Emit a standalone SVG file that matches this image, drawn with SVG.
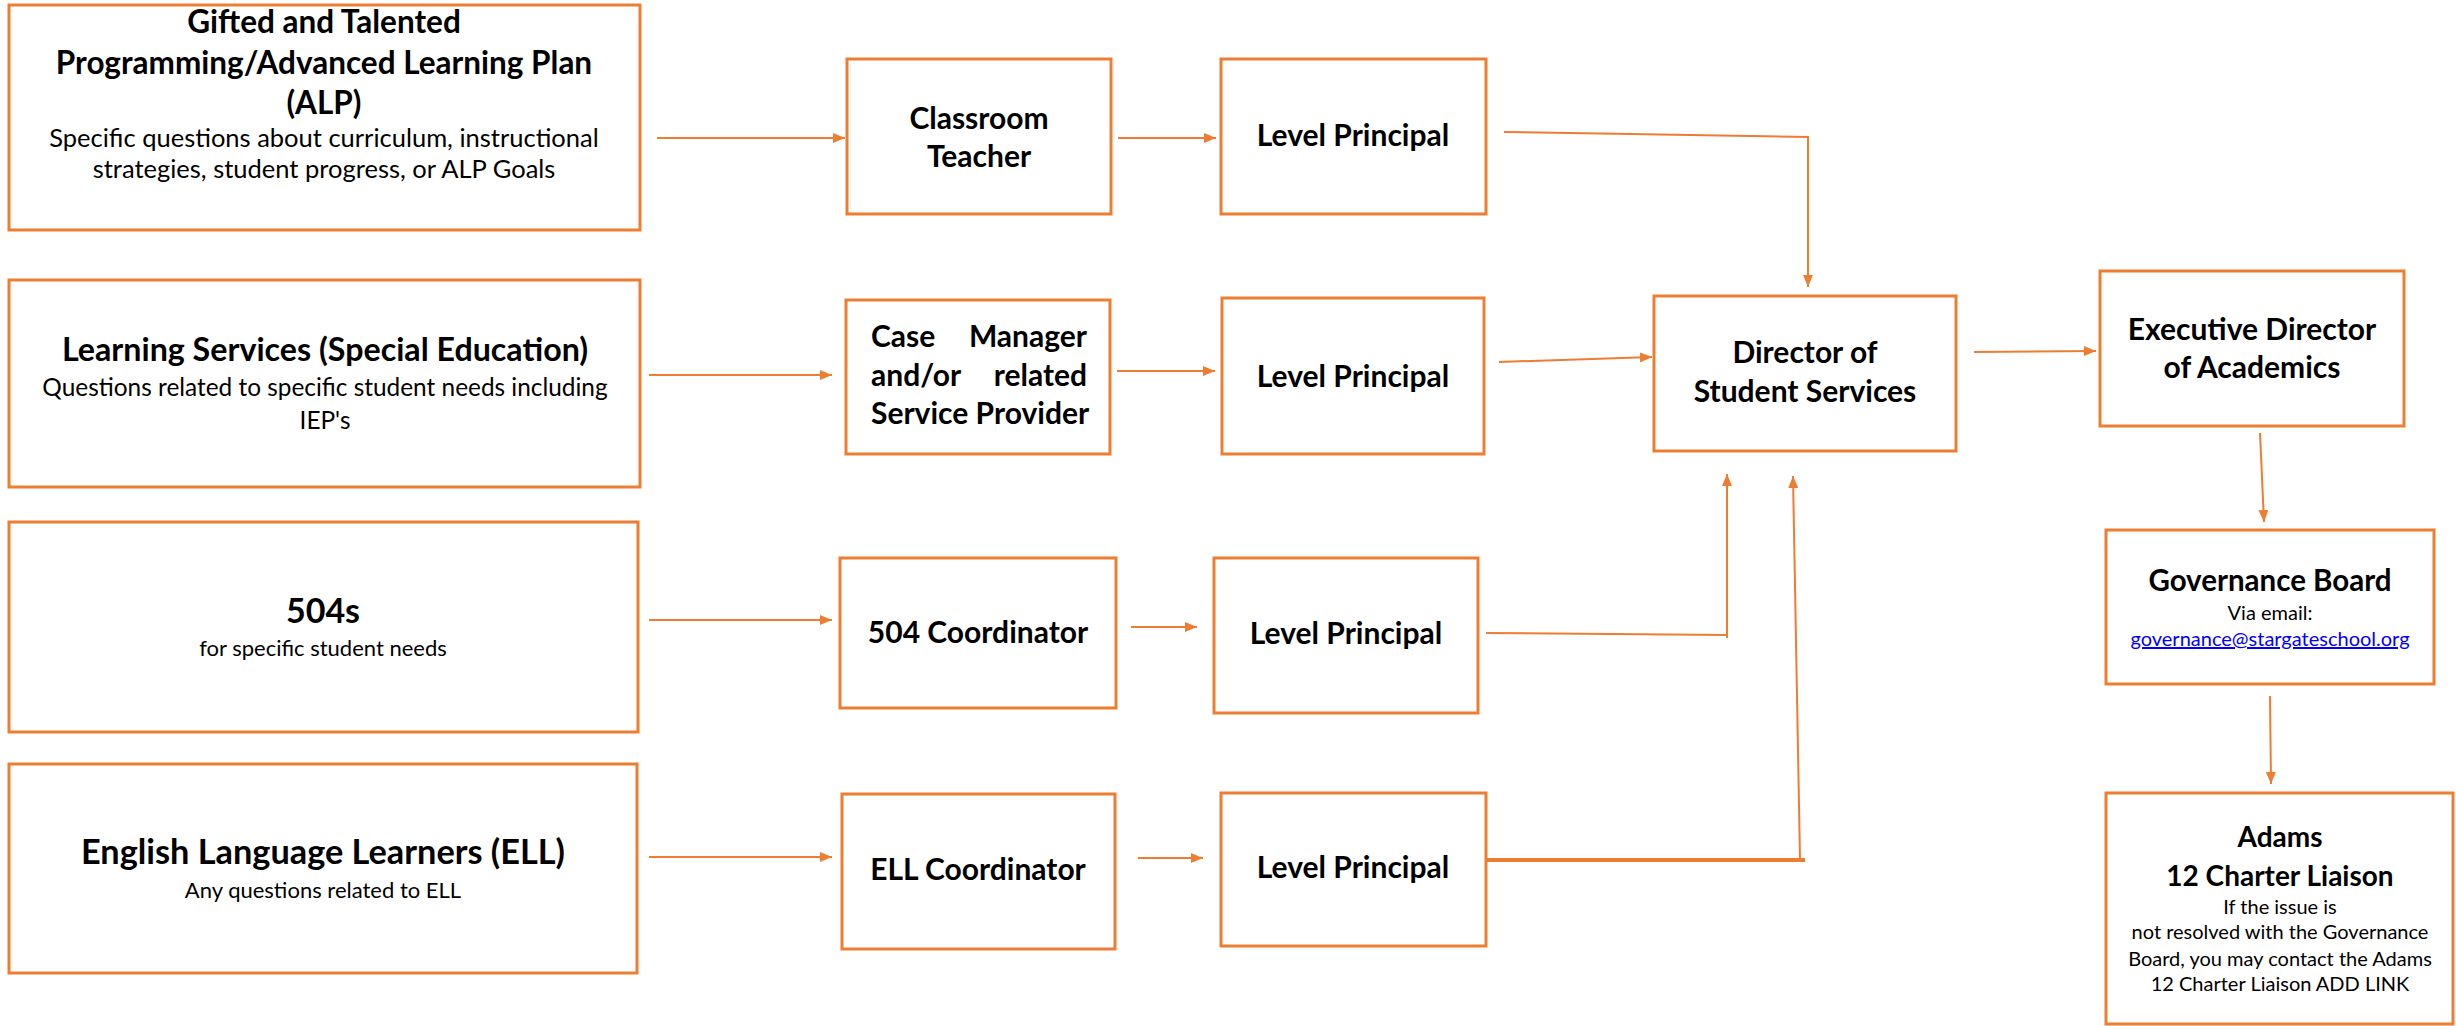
<svg xmlns="http://www.w3.org/2000/svg" width="2456" height="1026" viewBox="0 0 2456 1026">
<style>
.box{fill:#fff;stroke:#ED7D31;stroke-width:3}
.t{font-family:Lato,"Liberation Sans",sans-serif;font-weight:bold;font-size:30px;fill:#000;text-anchor:middle}
.s{font-family:Lato,"Liberation Sans",sans-serif;font-size:22px;fill:#000;text-anchor:middle}
.l{text-anchor:start}
.e{text-anchor:end}
.c{fill:none;stroke:#ED7D31;stroke-width:2}
.link{fill:#0000FF;text-decoration:underline}
</style>
<defs>
<marker id="ah" markerUnits="userSpaceOnUse" markerWidth="14" markerHeight="12" refX="12" refY="5" orient="auto">
<path d="M0,0 L12,5 L0,10 Z" fill="#ED7D31"/>
</marker>
</defs>
<rect width="2456" height="1026" fill="#fff"/>

<g id="connectors">
<line class="c" x1="657" y1="138" x2="845" y2="138" marker-end="url(#ah)"/>
<line class="c" x1="1118" y1="138" x2="1216" y2="138" marker-end="url(#ah)"/>
<polyline class="c" points="1504,132 1808,137 1808,287" marker-end="url(#ah)"/>
<line class="c" x1="649" y1="375" x2="832" y2="375" marker-end="url(#ah)"/>
<line class="c" x1="1117" y1="371" x2="1215" y2="371" marker-end="url(#ah)"/>
<line class="c" x1="1499" y1="362" x2="1652" y2="357" marker-end="url(#ah)"/>
<line class="c" x1="649" y1="620" x2="832" y2="620" marker-end="url(#ah)"/>
<line class="c" x1="1131" y1="627" x2="1197" y2="627" marker-end="url(#ah)"/>
<polyline class="c" points="1486,633 1727,635"/>
<line class="c" x1="1727" y1="638" x2="1727" y2="474" marker-end="url(#ah)"/>
<line class="c" x1="649" y1="857" x2="832" y2="857" marker-end="url(#ah)"/>
<line class="c" x1="1138" y1="858" x2="1203" y2="858" marker-end="url(#ah)"/>
<line class="c" x1="1486" y1="860" x2="1805" y2="860" style="stroke-width:4"/>
<line class="c" x1="1800" y1="860" x2="1793" y2="476" marker-end="url(#ah)"/>
<line class="c" x1="1974" y1="352" x2="2096" y2="351" marker-end="url(#ah)"/>
<line class="c" x1="2260" y1="433" x2="2264" y2="522" marker-end="url(#ah)"/>
<line class="c" x1="2270" y1="696" x2="2271" y2="784" marker-end="url(#ah)"/>
</g>

<g id="gifted">
<rect class="box" x="9" y="5" width="631" height="225"/>
<text class="t" x="324" y="33" style="font-size:31.5px">Gifted and Talented</text>
<text class="t" x="324" y="74" style="font-size:31.5px">Programming/Advanced Learning Plan</text>
<text class="t" x="324" y="114" style="font-size:31.5px">(ALP)</text>
<text class="s" x="324" y="147" style="font-size:25.5px">Specific questions about curriculum, instructional</text>
<text class="s" x="324" y="178" style="font-size:25.5px">strategies, student progress, or ALP Goals</text>
</g>

<g id="learning">
<rect class="box" x="9" y="280" width="631" height="207"/>
<text class="t" x="325" y="361" style="font-size:32.2px">Learning Services (Special Education)</text>
<text class="s" x="325" y="396" style="font-size:24.4px">Questions related to specific student needs including</text>
<text class="s" x="325" y="429" style="font-size:24.4px">IEP's</text>
</g>

<g id="s504">
<rect class="box" x="9" y="522" width="629" height="210"/>
<text class="t" x="323" y="623" style="font-size:34px">504s</text>
<text class="s" x="323" y="656">for specific student needs</text>
</g>

<g id="ell">
<rect class="box" x="9" y="764" width="628" height="209"/>
<text class="t" x="323" y="864" style="font-size:34.3px">English Language Learners (ELL)</text>
<text class="s" x="323" y="898">Any questions related to ELL</text>
</g>

<g id="teacher">
<rect class="box" x="847" y="59" width="264" height="155"/>
<text class="t" x="979" y="129">Classroom</text>
<text class="t" x="979" y="167">Teacher</text>
</g>

<g id="lp1">
<rect class="box" x="1221" y="59" width="265" height="155"/>
<text class="t" x="1353" y="146">Level Principal</text>
</g>

<g id="casemanager">
<rect class="box" x="846" y="300" width="264" height="154"/>
<text class="t l" x="871" y="347">Case</text>
<text class="t e" x="1087" y="347">Manager</text>
<text class="t l" x="871" y="386">and/or</text>
<text class="t e" x="1087" y="386">related</text>
<text class="t l" x="871" y="424">Service Provider</text>
</g>

<g id="lp2">
<rect class="box" x="1222" y="298" width="262" height="156"/>
<text class="t" x="1353" y="387">Level Principal</text>
</g>

<g id="coord504">
<rect class="box" x="840" y="558" width="276" height="150"/>
<text class="t" x="978" y="643">504 Coordinator</text>
</g>

<g id="lp3">
<rect class="box" x="1214" y="558" width="264" height="155"/>
<text class="t" x="1346" y="644">Level Principal</text>
</g>

<g id="coordell">
<rect class="box" x="842" y="794" width="273" height="155"/>
<text class="t" x="978" y="880">ELL Coordinator</text>
</g>

<g id="lp4">
<rect class="box" x="1221" y="793" width="265" height="153"/>
<text class="t" x="1353" y="878">Level Principal</text>
</g>

<g id="director">
<rect class="box" x="1654" y="296" width="302" height="155"/>
<text class="t" x="1805" y="363">Director of</text>
<text class="t" x="1805" y="402">Student Services</text>
</g>

<g id="executive">
<rect class="box" x="2100" y="271" width="304" height="155"/>
<text class="t" x="2252" y="340">Executive Director</text>
<text class="t" x="2252" y="378">of Academics</text>
</g>

<g id="governance">
<rect class="box" x="2106" y="530" width="328" height="154"/>
<text class="t" x="2270" y="591" style="font-size:29.5px">Governance Board</text>
<text class="s" x="2270" y="620" style="font-size:20px">Via email:</text>
<text class="s link" x="2270" y="646" style="font-size:20px">governance@stargateschool.org</text>
</g>

<g id="adams">
<rect class="box" x="2106" y="793" width="347" height="231"/>
<text class="t" x="2280" y="847" style="font-size:28px">Adams</text>
<text class="t" x="2280" y="886" style="font-size:28px">12 Charter Liaison</text>
<text class="s" x="2280" y="914" style="font-size:20px">If the issue is</text>
<text class="s" x="2280" y="939" style="font-size:20px">not resolved with the Governance</text>
<text class="s" x="2280" y="966" style="font-size:20px">Board, you may contact the Adams</text>
<text class="s" x="2280" y="991" style="font-size:20px">12 Charter Liaison ADD LINK</text>
</g>
</svg>
